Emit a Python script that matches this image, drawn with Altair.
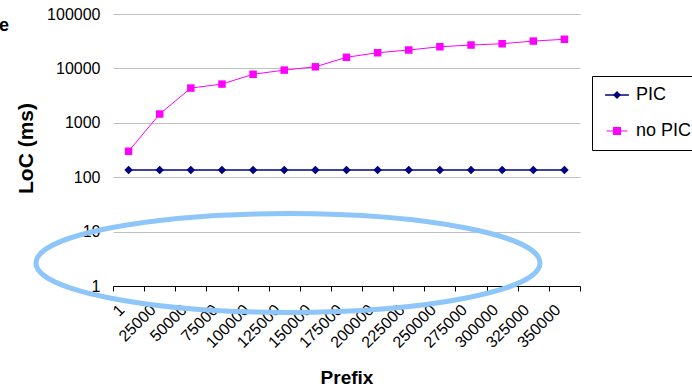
import altair as alt
import pandas as pd

prefix = ["1", "25000", "50000", "75000", "100000", "125000", "150000", "175000",
          "200000", "225000", "250000", "275000", "300000", "325000", "350000"]
pic_loc = [135, 135, 135, 135, 135, 135, 135, 135, 135, 135, 135, 135, 135, 135, 135]
no_pic_loc = [300, 1450, 4350, 5150, 7800, 9300, 10700, 16000, 19400, 21800,
              25000, 26900, 28400, 31800, 34300]
series_names = ["PIC", "no PIC"]
marker_names = ["PIC marker", "no PIC marker"]
series_colors = ["#000080", "#FF00FF"]
series_shapes = ["diamond", "square"]
series_widths = [1.5, 1.0]
y_ticks = [1, 10, 100, 1000, 10000, 100000]

rows = []
for p, a, b in zip(prefix, pic_loc, no_pic_loc):
    rows.append({"Prefix": p, "Series": series_names[0], "Marker": marker_names[0], "LoC": a})
    rows.append({"Prefix": p, "Series": series_names[1], "Marker": marker_names[1], "LoC": b})
df = pd.DataFrame(rows)

ELLIPSE = "M-1,0A1,0.196,0,1,1,1,0A1,0.196,0,1,1,-1,0Z"
LEG_LINE = "M-2.8,0H2.8"
color_expr = "datum.value === '%s' ? '%s' : '%s'" % (marker_names[0], series_colors[0], series_colors[1])

LEG_X, LEG_Y, LEG_PAD, LEG_ROW = 479, 62, 10, 18

line_legend = alt.Legend(
    title=None, orient="none", legendX=LEG_X, legendY=LEG_Y, direction="vertical",
    symbolType=LEG_LINE, symbolSize=144, symbolStrokeWidth=1.5, symbolOffset=6,
    labelFont="Liberation Sans", labelFontSize=18, labelColor="black",
    labelOffset=10, strokeColor="black", fillColor="white", padding=LEG_PAD,
    rowPadding=LEG_ROW, labelBaseline="middle", zindex=1,
)
marker_legend = alt.Legend(
    title=None, orient="none", legendX=LEG_X, legendY=LEG_Y, direction="vertical",
    symbolSize=64, symbolStrokeWidth=0, symbolOffset=6,
    symbolFillColor=alt.ExprRef(expr=color_expr),
    labelFont="Liberation Sans", labelFontSize=18, labelOpacity=0, labelExpr="' '",
    labelOffset=6, padding=LEG_PAD, rowPadding=LEG_ROW, labelBaseline="middle", zindex=2,
)

x_enc = alt.X(
    "Prefix:N", sort=prefix,
    scale=alt.Scale(paddingInner=0, paddingOuter=0),
    axis=alt.Axis(
        title="Prefix", labelAngle=-45, labelAlign="right", labelBaseline="middle",
        labelFontSize=16, labelPadding=16, labelOffset=-7, tickBand="extent", tickSize=5,
        tickColor="black", domainColor="black", grid=False, labelOverlap=False,
        titleFontSize=19, titleFontWeight="bold", titleY=97, titleBaseline="alphabetic",
    ),
)
y_enc = alt.Y(
    "LoC:Q",
    scale=alt.Scale(type="log", domain=[1, 100000]),
    axis=alt.Axis(
        title="LoC (ms)", values=y_ticks, format="d", domain=False, ticks=False,
        tickSize=0, labelPadding=13, labelFontSize=16, labelOverlap=False,
        gridColor="#C0C0C0", gridWidth=1,
        titleFontSize=21, titleFontWeight="bold", titleAngle=270,
        titleBaseline="alphabetic", titleX=-81, titleY=134, titleAlign="center",
    ),
)
color_scale = alt.Scale(domain=series_names, range=series_colors)

base = alt.Chart(df)
lines = base.mark_line().encode(
    x=x_enc, y=y_enc,
    color=alt.Color("Series:N", scale=color_scale, legend=line_legend),
    strokeWidth=alt.StrokeWidth("Series:N", scale=alt.Scale(domain=series_names, range=series_widths), legend=None),
)
points = base.mark_point(filled=True, opacity=1).encode(
    x=x_enc, y=y_enc,
    color=alt.Color("Series:N", scale=color_scale, legend=None),
    shape=alt.Shape("Marker:N", scale=alt.Scale(domain=marker_names, range=series_shapes),
                    legend=marker_legend),
    size=alt.Size("Series:N", scale=alt.Scale(domain=series_names, range=[72, 56]), legend=None),
)

anno = pd.DataFrame({"note": ["e"]})
ellipse = alt.Chart(anno).mark_point(
    shape=ELLIPSE, size=254016, filled=False, stroke="#8EC6F9", strokeWidth=5, opacity=1
).encode(x=alt.value(175), y=alt.value(249))
etext = alt.Chart(anno).mark_text(
    align="right", baseline="alphabetic", fontSize=18, fontWeight="bold",
    font="Liberation Sans", color="black"
).encode(text="note:N", x=alt.value(-104), y=alt.value(17))

chart = alt.layer(lines, points, ellipse, etext).properties(
    width=467, height=272,
    padding={"left": 113, "top": 14, "right": 112, "bottom": 102},
    autosize=alt.AutoSizeParams(type="none"),
).configure_view(stroke=None).configure_axis(
    labelFont="Liberation Sans", titleFont="Liberation Sans",
    labelColor="black", titleColor="black",
)

chart.save("out.html", embed_options={"renderer": "svg", "actions": False})
